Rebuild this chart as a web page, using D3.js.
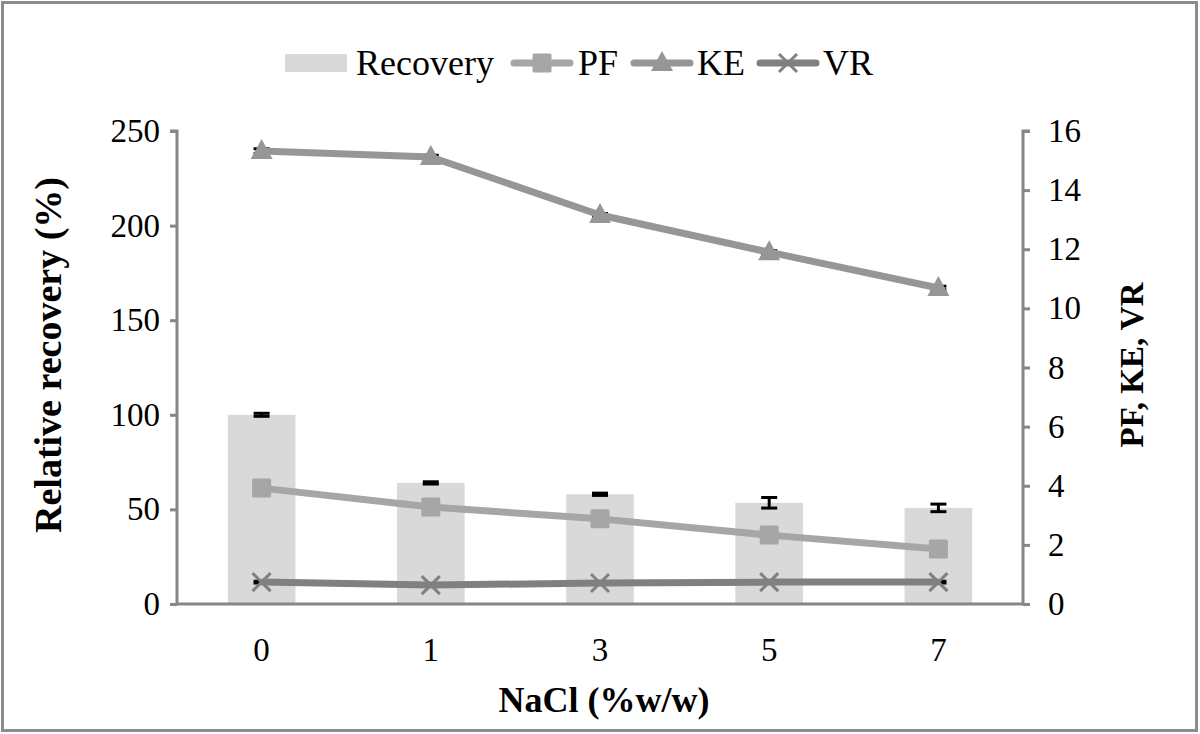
<!DOCTYPE html>
<html><head><meta charset="utf-8">
<script src="https://cdn.jsdelivr.net/npm/d3@7"></script>
<style>html,body{margin:0;padding:0;background:#fff}svg{display:block}text{font-family:"Liberation Serif","Times New Roman",serif}</style>
</head><body><svg id="c" width="1200" height="734"></svg>
<script>
const categories = ["0","1","3","5","7"];
const recovery = [100, 64, 58, 53.5, 50.8];
const recoveryErr = [0.8, 0.6, 0.6, 2.8, 2.0];
const pf = [3.92, 3.28, 2.88, 2.33, 1.86];
const ke = [15.32, 15.12, 13.16, 11.9, 10.69];
const keErr = [0.08, 0.06, 0.05, 0.05, 0.06];
const vr = [0.74, 0.64, 0.71, 0.74, 0.74];
const vrErr = [0.03, 0.02, 0.02, 0.02, 0.03];
const leftTicks = [0, 50, 100, 150, 200, 250];
const rightTicks = [0, 2, 4, 6, 8, 10, 12, 14, 16];

const svg = d3.select("#c");
svg.append("rect").attr("x",2.5).attr("y",2.5).attr("width",1194).attr("height",728)
  .attr("fill","#fff").attr("stroke","#8c8c8c").attr("stroke-width",3);

const m = {l:177, r:1023, t:131, b:604};
const x = d3.scaleBand().domain(categories).range([m.l, m.r]).paddingInner(0.6).paddingOuter(0.3);
const xc = d => x(d) + x.bandwidth()/2;
const yL = d3.scaleLinear().domain([0,250]).range([m.b, m.t]);
const yR = d3.scaleLinear().domain([0,16]).range([m.b, m.t]);
const axisCol = "#868686";

svg.append("g").selectAll("rect").data(categories).join("rect")
  .attr("x", d => x(d)).attr("width", x.bandwidth())
  .attr("y", (d,i) => yL(recovery[i])).attr("height", (d,i) => yL(0) - yL(recovery[i]))
  .attr("fill", "#d9d9d9");

function errBars(vals, errs, scale) {
  const g = svg.append("g").attr("stroke","#000").attr("stroke-width",3);
  categories.forEach((c,i) => {
    const cx = xc(c), y1 = scale(vals[i]+errs[i]), y2 = scale(vals[i]-errs[i]);
    g.append("line").attr("x1",cx).attr("x2",cx).attr("y1",y1).attr("y2",y2);
    g.append("line").attr("x1",cx-8).attr("x2",cx+8).attr("y1",y1).attr("y2",y1);
    g.append("line").attr("x1",cx-8).attr("x2",cx+8).attr("y1",y2).attr("y2",y2);
  });
}
errBars(recovery, recoveryErr, yL);

const gL = svg.append("g").attr("transform",`translate(${m.l},0)`)
  .call(d3.axisLeft(yL).tickValues(leftTicks).tickSize(7).tickPadding(10));
const gR = svg.append("g").attr("transform",`translate(${m.r},0)`)
  .call(d3.axisRight(yR).tickValues(rightTicks).tickSize(7).tickPadding(18));
const gX = svg.append("g").attr("transform",`translate(0,${m.b})`)
  .call(d3.axisBottom(x).tickSize(0).tickPadding(34));
[gL,gR,gX].forEach(g => {
  g.select(".domain").attr("stroke",axisCol).attr("stroke-width",3);
  g.selectAll(".tick line").attr("stroke",axisCol).attr("stroke-width",3);
  g.selectAll(".tick text").attr("font-size",33).attr("fill","#000")
    .attr("font-family","'Liberation Serif',serif");
});
gX.select(".domain").attr("d", `M${m.l},0H${m.r}`);
gL.select(".domain").attr("d", `M-7,${m.t}H0V${m.b}`);
gR.select(".domain").attr("d", `M7,${m.t}H0V${m.b}`);

const line = vals => d3.line().x((d,i)=>xc(categories[i])).y(d=>yR(d))(vals);
const series = [
  {name:"PF", vals:pf, color:"#a6a6a6", marker:"square"},
  {name:"KE", vals:ke, color:"#969696", marker:"triangle"},
  {name:"VR", vals:vr, color:"#808080", marker:"cross"}
];
errBars(ke, keErr, yR);
errBars(vr, vrErr, yR);
function drawMarker(g, type, cx, cy, color) {
  if (type==="square") g.append("rect").attr("x",cx-9.5).attr("y",cy-9.5).attr("width",19).attr("height",19).attr("rx",1.5).attr("fill",color);
  else if (type==="triangle") g.append("path").attr("d",`M${cx},${cy-12}L${cx+11},${cy+8}L${cx-11},${cy+8}Z`).attr("fill",color);
  else g.append("path").attr("d",`M${cx-9},${cy-9}L${cx+9},${cy+9}M${cx-9},${cy+9}L${cx+9},${cy-9}`).attr("stroke",color).attr("stroke-width",3);
}
series.forEach(s => {
  svg.append("path").attr("d", line(s.vals)).attr("fill","none").attr("stroke",s.color)
    .attr("stroke-width",7).attr("stroke-linejoin","round");
  const g = svg.append("g");
  s.vals.forEach((v,i) => drawMarker(g, s.marker, xc(categories[i]), yR(v), s.color));
});

svg.append("text").attr("transform","translate(61,355) rotate(-90)").attr("text-anchor","middle")
  .attr("font-size",38).attr("font-weight","bold").text("Relative recovery (%)");
svg.append("text").attr("transform","translate(1143,365) rotate(-90)").attr("text-anchor","middle")
  .attr("font-size",33).attr("font-weight","bold").text("PF, KE, VR");
svg.append("text").attr("x",604).attr("y",712).attr("text-anchor","middle")
  .attr("font-size",36).attr("font-weight","bold").text("NaCl (%w/w)");

const lg = svg.append("g");
const ly = 63;
lg.append("rect").attr("x",285).attr("y",ly-9).attr("width",62).attr("height",18).attr("fill","#d9d9d9");
lg.append("text").attr("x",356).attr("y",ly+12).attr("font-size",36).text("Recovery");
const legItems = [{s:series[0], x0:510, tx:578},{s:series[1], x0:630, tx:697},{s:series[2], x0:756, tx:823}];
legItems.forEach(it => {
  lg.append("line").attr("x1",it.x0+4).attr("x2",it.x0+60).attr("y1",ly).attr("y2",ly)
    .attr("stroke",it.s.color).attr("stroke-width",7).attr("stroke-linecap","round");
  drawMarker(lg, it.s.marker, it.x0+32, ly, it.s.color);
  lg.append("text").attr("x",it.tx).attr("y",ly+12).attr("font-size",36).text(it.s.name);
});
</script></body></html>
